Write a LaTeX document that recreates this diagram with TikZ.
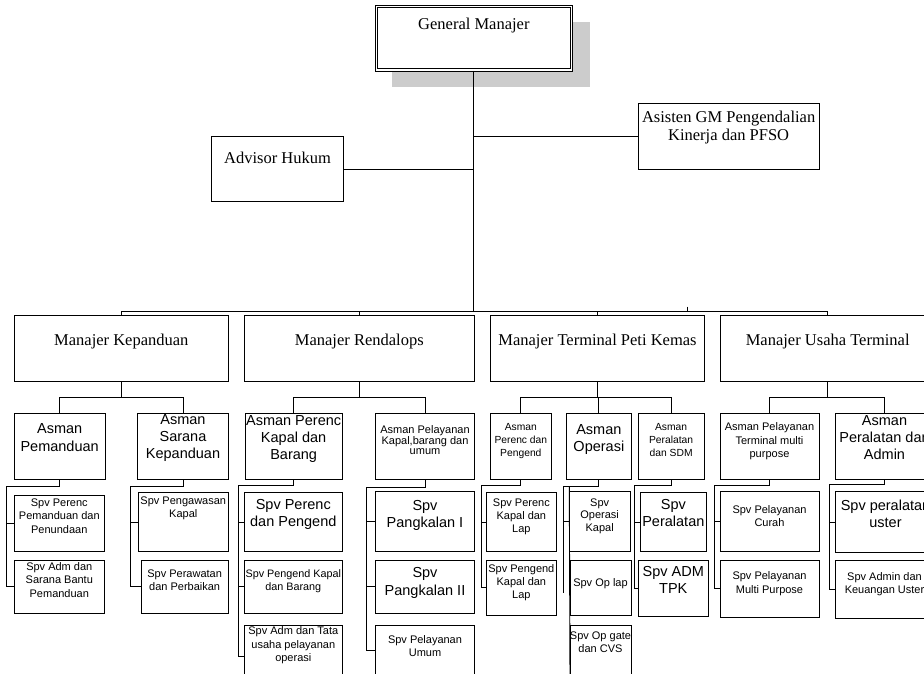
\documentclass[tikz,border=0pt]{standalone}
\usepackage{fontspec}
\setmainfont{Liberation Serif}
\newfontfamily\arialf{Liberation Sans}
\usetikzlibrary{fit}
\tikzset{
  box/.style={draw, line width=0.9pt, inner sep=0pt, outer sep=0pt},
  serif/.style={font=\fontsize{16.5}{18.3}\selectfont, align=center, inner sep=0pt, anchor=north},
  sans/.style 2 args={font=\arialf\fontsize{#1}{#2}\selectfont, align=center, inner sep=0pt, anchor=north},
  conn/.style={line width=0.9pt},
}
\definecolor{shadowgray}{HTML}{CCCCCC}
\newcommand\obox[8]{%
  \node[box, fit={(#2,#3) (#4,#5)}] (#1) {};
  \node[#6] (#1t) at (#1.north |- 0,#7) {#8};
}
\begin{document}
\begin{tikzpicture}[x=1pt,y=-1pt]
\useasboundingbox (0,0) rectangle (924,674);
\clip (0,0) rectangle (924,674);
\fill[white] (0,0) rectangle (924,674);
% General Manajer with shadow and double border
\fill[shadowgray] (391.7,21.7) rectangle (590,87.3);
\node[box, fill=white, fit={(375,5) (572.7,71)}] (gm) {};
\draw[line width=0.9pt] ([shift={(2.4,2.4)}]gm.north west) rectangle ([shift={(-2.4,-2.4)}]gm.south east);
\node[serif] (gmt) at (gm.north |- 0,18.3) {General Manajer};
\obox{adv}{211.7}{136.7}{343.3}{201.7}{serif}{152.3}{Advisor Hukum}
\obox{asi}{638.3}{103.3}{819}{169}{serif}{111}{Asisten GM Pengendalian\\Kinerja dan PFSO}
% Managers
\obox{mK}{14.3}{315.7}{228.3}{381}{serif}{334.3}{Manajer Kepanduan}
\obox{mR}{244.3}{315.7}{474.3}{381}{serif}{334.3}{Manajer Rendalops}
\obox{mT}{490.7}{315.7}{704.3}{381}{serif}{334.3}{Manajer Terminal Peti Kemas}
\obox{mU}{720}{315.7}{935.4}{381}{serif}{334.3}{Manajer Usaha Terminal}
% Asman
\obox{aK1}{14.3}{413.3}{105}{479}{sans={14.5}{17.7}}{423.3}{Asman\\Pemanduan}
\obox{aK2}{137.7}{413.3}{228.3}{479}{sans={14.5}{17}}{414.5}{Asman\\Sarana\\Kepanduan}
\obox{aR1}{245}{413.3}{342.3}{479}{sans={14.5}{17}}{415}{Asman Perenc\\Kapal dan\\Barang}
\obox{aR2}{375.7}{413.3}{474.3}{479}{sans={11}{10.5}}{425.7}{Asman Pelayanan\\Kapal,barang dan\\umum}
\obox{aT1}{490}{413.3}{551.7}{479}{sans={10.3}{13}}{423.3}{Asman\\Perenc dan\\Pengend}
\obox{aT2}{566}{413.3}{631.7}{479}{sans={14.5}{17.7}}{424}{Asman\\Operasi}
\obox{aT3}{638.3}{413.3}{704}{479}{sans={10.3}{13}}{423.3}{Asman\\Peralatan\\dan SDM}
\obox{aU1}{720}{413.3}{819}{479}{sans={11}{13.3}}{422.7}{Asman Pelayanan\\Terminal multi\\purpose}
\obox{aU2}{835}{413.3}{934}{479}{sans={14.5}{17}}{415}{Asman\\Peralatan dan\\Admin}
% Spv
\obox{sK1a}{14.3}{495}{104.3}{551.7}{sans={11}{13.5}}{498.3}{Spv Perenc\\Pemanduan dan\\Penundaan}
\obox{sK1b}{14.3}{560}{104.3}{613.3}{sans={11}{13.3}}{562.3}{Spv Adm dan\\Sarana Bantu\\Pemanduan}
\obox{sK2a}{138.3}{492.3}{228.3}{551.7}{sans={11}{13.3}}{496.7}{Spv Pengawasan\\Kapal}
\obox{sK2b}{141}{560}{228.3}{613.3}{sans={11}{13.3}}{569.3}{Spv Perawatan\\dan Perbaikan}
\obox{sR1a}{244.3}{492.3}{342.3}{551.7}{sans={14.5}{17}}{499}{Spv Perenc\\dan Pengend}
\obox{sR1b}{244.3}{560}{342.3}{613.3}{sans={10.8}{13.3}}{569.3}{Spv Pengend Kapal\\dan Barang}
\obox{sR1c}{244.3}{625}{342.3}{688}{sans={11}{13.3}}{626.7}{Spv Adm dan Tata\\usaha pelayanan\\operasi}
\obox{sR2a}{375.7}{491.7}{474.3}{551.7}{sans={14.5}{17.5}}{500}{Spv\\Pangkalan I}
\obox{sR2b}{375.7}{560}{474.3}{613.3}{sans={14.5}{17.5}}{567.3}{Spv\\Pangkalan II}
\obox{sR2c}{375.7}{625}{474.3}{675}{sans={11}{13}}{635}{Spv Pelayanan\\Umum}
\obox{sT1a}{486.7}{492.3}{556}{551.7}{sans={11}{13.3}}{498.3}{Spv Perenc\\Kapal dan\\Lap}
\obox{sT1b}{486}{560}{556.7}{615}{sans={11}{13.3}}{564}{Spv Pengend\\Kapal dan\\Lap}
\obox{sT2a}{569.3}{491.7}{630}{551}{sans={11}{12.8}}{498.3}{Spv\\Operasi\\Kapal}
\obox{sT2b}{570}{560}{631}{615.7}{sans={11}{13}}{578.3}{Spv Op lap}
\obox{sT2c}{570}{625}{631}{680}{sans={11}{13}}{632}{Spv Op gate\\dan CVS}
\obox{sT3a}{640}{492.3}{706.7}{551.7}{sans={14.5}{17.5}}{499}{Spv\\Peralatan}
\obox{sT3b}{638.3}{560}{708.3}{616}{sans={14.5}{17.5}}{566}{Spv ADM\\TPK}
\obox{sU1a}{720}{491.7}{819}{551.7}{sans={11}{13.3}}{505}{Spv Pelayanan\\Curah}
\obox{sU1b}{720}{560}{819}{617.3}{sans={11}{13.3}}{571.7}{Spv Pelayanan\\Multi Purpose}
\obox{sU2a}{835}{491.7}{936}{552.7}{sans={14.5}{17}}{500}{Spv peralatan\\uster}
\obox{sU2b}{835}{560}{934}{618.3}{sans={11}{13.3}}{572.3}{Spv Admin dan\\Keuangan Uster}
% level coordinates
\coordinate (bus) at (0,311.7);
\coordinate (lv) at (0,397.3);
% top connectors
\draw[conn] (gm.south) -- (gm.south |- bus);
\draw[conn] (adv.east) -- (adv.east -| gm.south);
\draw[conn] (asi.west) -- (asi.west -| gm.south);
\draw[conn] (mK.north) -- (mK.north |- bus) -- (mU.north |- bus) -- (mU.north);
\draw[conn] (mR.north) -- (mR.north |- bus);
\draw[conn] (mT.north) -- (mT.north |- bus);
\coordinate (tick) at (687.3,306.7);
\draw[conn] (tick) -- (tick |- bus);
% manager to asman
\draw[conn] (mK.south) -- (mK.south |- lv);
\draw[conn] (aK1.north) -- (aK1.north |- lv) -- (aK2.north |- lv) -- (aK2.north);
\draw[conn] (mR.south) -- (mR.south |- lv);
\draw[conn] (aR1.north) -- (aR1.north |- lv) -- (aR2.north |- lv) -- (aR2.north);
\draw[conn] (mT.south) -- (mT.south |- lv);
\draw[conn] (aT1.north) -- (aT1.north |- lv) -- (aT3.north |- lv) -- (aT3.north);
\draw[conn] (aT2.north) -- (aT2.north |- lv);
\draw[conn] (mU.south) -- (mU.south |- lv);
\draw[conn] (aU1.north) -- (aU1.north |- lv) -- (aU2.north |- lv) -- (aU2.north);
% rails
\coordinate (rK1) at (6,486.7);
\coordinate (rK2) at (130,486.7);
\coordinate (rR1) at (238.3,485);
\coordinate (rR2) at (366.7,487.3);
\coordinate (rT1) at (481.3,485);
\coordinate (rT2) at (563.3,486.7);
\coordinate (rT3) at (634,485);
\coordinate (rU1) at (714,485);
\coordinate (rU2) at (829.3,484);
\draw[conn] (aK1.south) |- (rK1) |- (sK1a.west);
\draw[conn] (rK1) |- (sK1b.west);
\draw[conn] (aK2.south) |- (rK2) |- (sK2a.west);
\draw[conn] (rK2) |- (sK2b.west);
\draw[conn] (aR1.south) |- (rR1) |- (sR1a.west);
\draw[conn] (rR1) |- (sR1b.west);
\draw[conn] (rR1) |- (sR1c.west);
\draw[conn] (aR2.south) |- (rR2) |- (sR2a.west);
\draw[conn] (rR2) |- (sR2b.west);
\draw[conn] (rR2) |- (sR2c.west);
\draw[conn] (aT1.south) |- (rT1) |- (sT1a.west);
\draw[conn] (rT1) |- (sT1b.west);
\draw[conn] (aT2.south) |- (rT2) -- ++(0,106.6);
\draw[conn] (rT2) |- (sT2a.west);
\draw[conn] (sT2a.west |- rT2) -- (sT2c.south west);
\draw[conn] (aT3.south) |- (rT3) |- (sT3a.west);
\draw[conn] (rT3) |- (sT3b.west);
\draw[conn] (aU1.south) |- (rU1) |- (sU1a.west);
\draw[conn] (rU1) |- (sU1b.west);
\draw[conn] (aU2.south) |- (rU2) |- (sU2a.west);
\draw[conn] (rU2) |- (sU2b.west);
\end{tikzpicture}
\end{document}
